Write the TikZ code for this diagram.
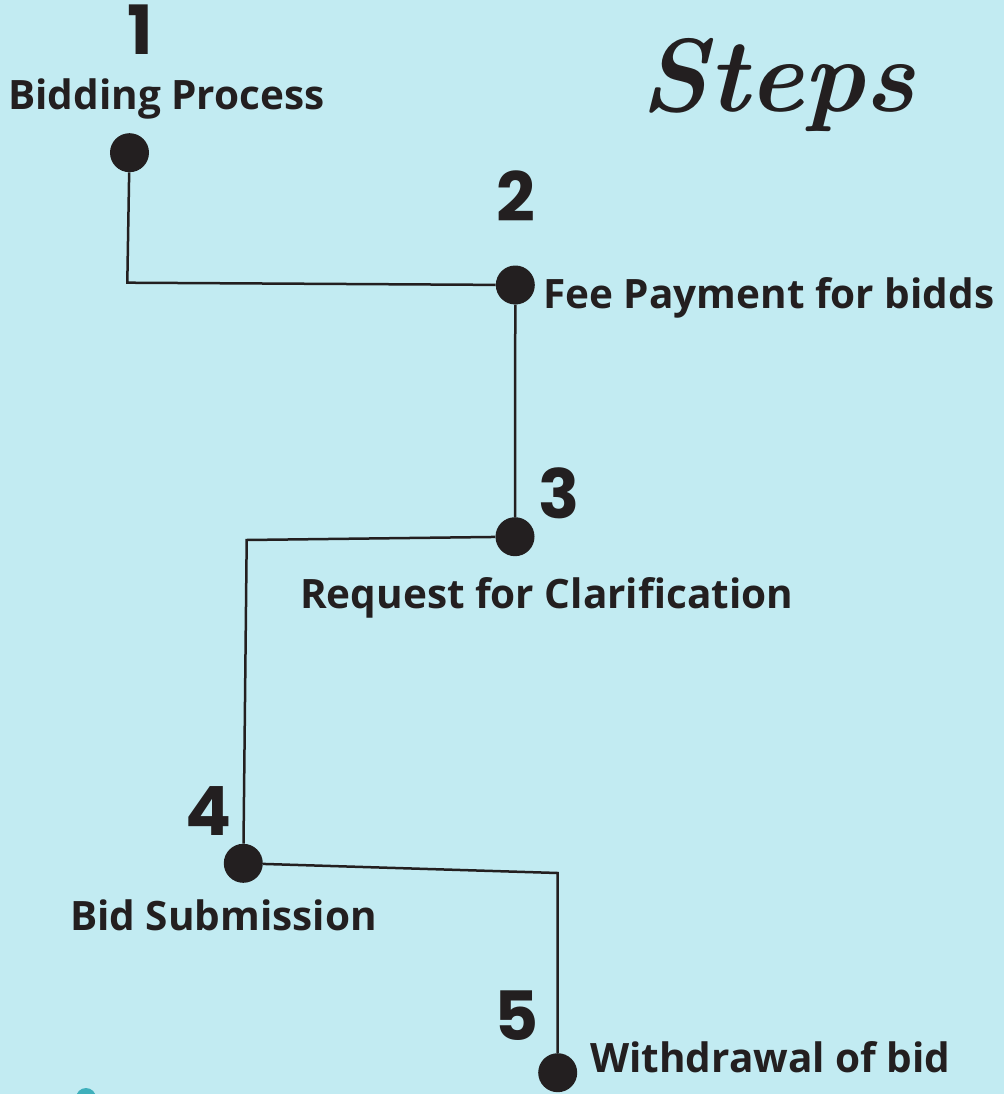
\documentclass[tikz,border=0pt]{standalone}
\usepackage{fontspec}
\setmainfont{Open Sans}
\newfontfamily\numfont{Poppins}
\newfontfamily\scriptf{Latin Modern Roman}
\definecolor{bg}{HTML}{C2EBF2}
\definecolor{ink}{HTML}{231F20}
\definecolor{teal}{HTML}{3FB0BC}
\tikzset{
  dot/.style={circle, fill=ink, draw=none, minimum size=39pt, inner sep=0pt},
  link/.style={draw=ink, line width=2.5pt},
  lbl/.style={anchor=base west, text=ink, font=\fontsize{40.5}{46}\selectfont\bfseries, inner sep=0pt},
  num/.style={anchor=base, text=ink, font=\fontsize{68}{72}\selectfont\numfont\bfseries, inner sep=0pt},
}
\begin{document}
\begin{tikzpicture}[x=1pt,y=-1pt]
\fill[bg] (0,0) rectangle (1004,1094);
\useasboundingbox (0,0) rectangle (1004,1094);

% title
\node[text=ink, font=\fontsize{104}{110}\selectfont\scriptf\bfseries\itshape, inner sep=0pt, anchor=base] (title) at (778,112) {Steps};

% dots
\node[dot] (d1) at (129.5,152.7) {};
\node[dot] (d2) at (515.3,285) {};
\node[dot] (d3) at (515,536.7) {};
\node[dot] (d4) at (243.3,863.3) {};
\node[dot] (d5) at (557.7,1072.7) {};

% bends
\coordinate (c12) at (127.3,282.7);
\coordinate (c34) at (246.7,540);
\coordinate (c45) at (557.7,873);

\draw[link] (d1) -- (c12) -- (d2);
\draw[link] (d2) -- (d3);
\draw[link] (d3) -- (c34) -- (d4);
\draw[link] (d4) -- (c45) -- (d5);

% numbers
\node[num] (n1) at (140,55) {1};
\node[num] (n2) at (516,222) {2};
\node[num] (n3) at (559,518) {3};
\node[num] (n4) at (209,835) {4};
\node[num] (n5) at (517,1040) {5};

% labels
\node[lbl] (l1) at (8,110) {Bidding Process};
\node[lbl] (l2) at (543,308) {Fee Payment for bidds};
\node[lbl] (l3) at (300,608) {Request for Clarification};
\node[lbl] (l4) at (70,930) {Bid Submission};
\node[lbl] (l5) at (590,1072) {Withdrawal of bid};

% partial teal shape at bottom edge
\fill[teal] (86,1098) circle (10);
\fill[teal!40!ink] (86,1100) circle (6);
\end{tikzpicture}
\end{document}
